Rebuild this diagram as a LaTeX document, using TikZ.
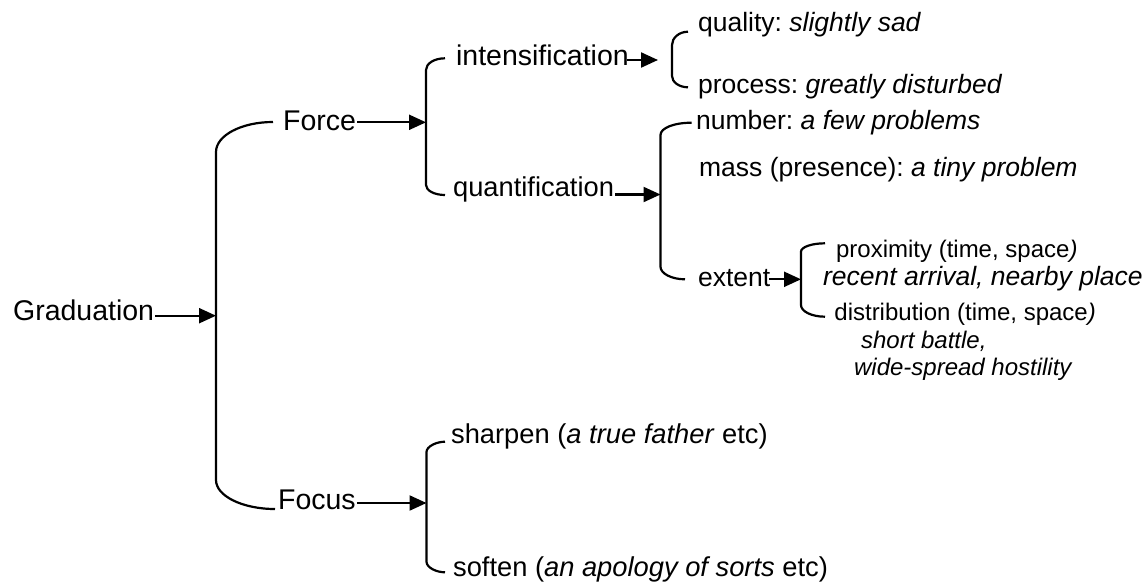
\documentclass[tikz,border=0pt]{standalone}
\usepackage{fontspec}
\setmainfont{Liberation Sans}
\usetikzlibrary{arrows.meta}
\frenchspacing

\begin{document}
\begin{tikzpicture}[
        x=1pt, y=-1pt,
        line width=2.2pt,
        every node/.style={inner sep=0pt, anchor=base west},
        big/.style={font=\fontsize{28.5}{34}\selectfont},
        med/.style={font=\fontsize{27.3}{33}\selectfont},
        mid/.style={font=\fontsize{26.5}{32}\selectfont},
        small/.style={font=\fontsize{24}{29}\selectfont},
        >={Triangle[length=17pt,width=15pt]}
    ]

        \useasboundingbox (0,0) rectangle (1145,581);

        %--------------------------------
        % Graduation
        %--------------------------------
        \node[big] (grad) at (12,320) {Graduation};
        \coordinate (g-in) at (216,315.7);

        \draw (273,122) .. controls (241.5,122) and (216,135.4) .. (216,152)
            -- (216,480) .. controls (216,496) and (242.4,509) .. (275,509);
        \draw[->] (grad.east |- g-in) -- (g-in);

        %--------------------------------
        % Force
        %--------------------------------
        \node[big] (force) at (282,130) {Force};
        \coordinate (f-in) at (426,122.3);

        \draw (445,58.3) .. controls (434.3,58.3) and (426,63.5) .. (426,70)
            -- (426,185) .. controls (426,190.5) and (434.3,195) .. (445,195);
        \draw[->] (force.east |- f-in) -- (f-in);

        \node[big] (inten) at (455,65) {intensification};
        \node[med] (quant) at (452,196.7) {quantification};

        %--------------------------------
        % intensification
        %--------------------------------
        \coordinate (i-in) at (658,60);
        \draw (688,31.7) .. controls (679,31.7) and (672,38) .. (672,45)
            -- (672,76) .. controls (672,82) and (679,87.3) .. (688,87.3);
        \draw[->] ([xshift=-3pt]inten.east |- i-in) -- (i-in);

        \node[mid] (quality) at (697,31.7) {quality: \textit{slightly sad}};
        \node[mid] (process) at (697,93.3) {process: \textit{greatly disturbed}};

        %--------------------------------
        % quantification
        %--------------------------------
        \coordinate (q-in) at (660.5,194.5);
        \draw (691.7,122.7) .. controls (674,122.7) and (660.5,128) .. (660.5,135)
            -- (660.5,266.7) .. controls (660.5,273.5) and (671.5,279.3) .. (685,279.3);
        \draw[->] (quant.east |- q-in) -- (q-in);

        \node[mid] (number) at (695,129) {number: \textit{a few problems}};
        \node[mid] (mass) at (698,176.7) {mass (presence): \textit{a tiny problem}};
        \node[mid] (extent) at (697,286.7) {extent};

        %--------------------------------
        % extent
        %--------------------------------
        \coordinate (e-in) at (801,279.3);
        \draw (825,243.3) .. controls (811.8,243.3) and (801,247) .. (801,251.7)
            -- (801,305) .. controls (801,311.5) and (811.8,316.7) .. (825,316.7);
        \draw[->] ([xshift=-2pt]extent.east |- e-in) -- (e-in);

        \node[small] (prox) at (835,257.3) {proximity (time, space\textit{)}};
        \node[mid] (proxex) at (822,285) {\textit{recent arrival, nearby place}};
        \node[small] (distr) at (833.3,320) {distribution (time, space\textit{)}};
        \node[small] (distrex1) at (860,348.3) {\textit{short battle,}};
        \node[small] (distrex2) at (853,375) {\textit{wide-spread hostility}};

        %--------------------------------
        % Focus
        %--------------------------------
        \node[big] (focus) at (277,509) {Focus};
        \coordinate (fo-in) at (426.5,503);

        \draw (445,441.7) .. controls (436.3,441.7) and (426.5,446.5) .. (426.5,452)
            -- (426.5,561.7) .. controls (426.5,567.5) and (436.3,572.3) .. (445,572.3);
        \draw[->] (focus.east |- fo-in) -- (fo-in);

        \node[med] (sharpen) at (450,443.3) {sharpen (\textit{a true father} etc)};
        \node[med] (soften) at (452,576.7) {soften (\textit{an apology of sorts} etc)};

    \end{tikzpicture}
\end{document}
